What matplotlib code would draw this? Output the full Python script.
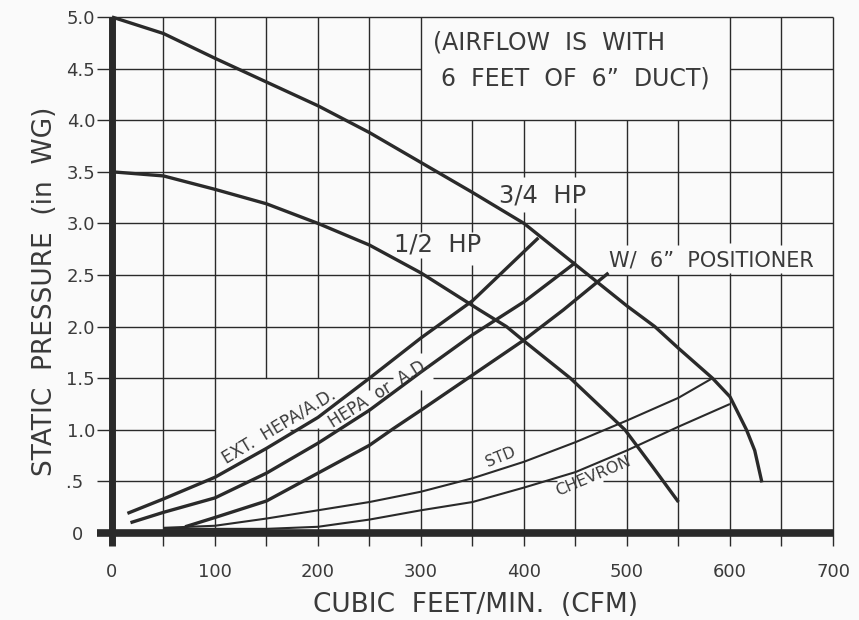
import matplotlib
matplotlib.use("Agg")
import matplotlib.pyplot as plt

# fan curves (cfm, static pressure in WG)
hp34_x = [0, 50, 100, 150, 200, 250, 300, 350, 400, 450, 500, 527, 550, 583, 600, 616, 624, 631]
hp34_y = [5.0, 4.84, 4.6, 4.37, 4.14, 3.88, 3.59, 3.30, 3.0, 2.6, 2.2, 2.0, 1.79, 1.5, 1.32, 1.0, 0.8, 0.49]
hp12_x = [0, 50, 100, 150, 200, 250, 300, 357, 383, 400, 445, 498, 525, 550]
hp12_y = [3.5, 3.46, 3.33, 3.19, 3.0, 2.79, 2.52, 2.16, 2.0, 1.86, 1.5, 1.0, 0.64, 0.3]

# system curves
ext_x = [15, 50, 100, 150, 200, 250, 300, 350, 414]
ext_y = [0.19, 0.33, 0.54, 0.82, 1.12, 1.50, 1.89, 2.25, 2.86]
hepa_x = [18, 50, 100, 150, 200, 250, 300, 350, 400, 450]
hepa_y = [0.10, 0.20, 0.34, 0.58, 0.87, 1.19, 1.56, 1.92, 2.24, 2.62]
pos_x = [71, 100, 150, 200, 250, 273, 300, 350, 400, 438, 482]
pos_y = [0.06, 0.15, 0.31, 0.58, 0.85, 1.01, 1.19, 1.53, 1.87, 2.16, 2.52]
std_x = [50, 100, 150, 200, 250, 300, 350, 400, 450, 500, 550, 583]
std_y = [0.05, 0.07, 0.14, 0.22, 0.30, 0.40, 0.53, 0.69, 0.88, 1.09, 1.31, 1.50]
chev_x = [50, 100, 150, 200, 250, 300, 350, 400, 450, 500, 550, 600]
chev_y = [0.04, 0.04, 0.04, 0.06, 0.13, 0.22, 0.30, 0.44, 0.59, 0.80, 1.03, 1.25]

x_ticks = [0, 100, 200, 300, 400, 500, 600, 700]
y_ticks = [0, 0.5, 1.0, 1.5, 2.0, 2.5, 3.0, 3.5, 4.0, 4.5, 5.0]
y_labels = ['0  ', '.5  ', '1.0', '1.5', '2.0', '2.5', '3.0', '3.5', '4.0', '4.5', '5.0']

# gaps in the grid where the labels sit
vgaps = {150: [(0.83, 1.5)], 200: [(1.02, 1.5)], 250: [(1.21, 1.39)],
         300: [(1.39, 1.74), (2.66, 2.92)], 350: [(2.60, 2.92), (4.0, 5.0)],
         400: [(3.11, 3.45), (4.0, 5.0)], 450: [(3.15, 3.45), (4.0, 5.0)],
         500: [(2.5, 2.79), (4.0, 5.0)], 550: [(2.5, 2.79), (4.0, 5.0)],
         600: [(2.52, 2.81)], 650: [(2.52, 2.79)]}
hgaps = {0.5: [(432, 477)], 1.0: [(100, 173)], 1.5: [(273, 312)], 4.5: [(300, 600)]}

ink = '#2a2a2a'
txt = '#3a3a3a'
bg = '#fafafa'
XMIN, XMAX = -15, 700
YMIN, YMAX = -0.13, 5.0


def pieces(lo, hi, gaps):
	out = []
	start = lo
	for g0, g1 in sorted(gaps):
		out.append((start, g0))
		start = g1
	out.append((start, hi))
	return out


fig = plt.figure(figsize=(8.59, 6.20), dpi=100, facecolor=bg)
ax = fig.add_axes([96.5 / 859, 1 - 546.4 / 620, (833 - 96.5) / 859, (546.4 - 17) / 620])
ax.set_facecolor(bg)
ax.set_xlim(XMIN, XMAX)
ax.set_ylim(YMIN, YMAX)
for s in ax.spines.values():
	s.set_visible(False)

# grid
for gx in range(50, 701, 50):
	for a, b in pieces(YMIN, YMAX, vgaps.get(gx, [])):
		ax.plot([gx, gx], [a, b], color=ink, lw=1.0, clip_on=False, solid_capstyle='butt')
for gy in y_ticks[1:]:
	for a, b in pieces(XMIN, XMAX, hgaps.get(gy, [])):
		ax.plot([a, b], [gy, gy], color=ink, lw=1.0, clip_on=False, solid_capstyle='butt')

# heavy axes
ax.plot([0, 0], [YMIN, YMAX], color=ink, lw=5, clip_on=False, solid_capstyle='butt')
ax.plot([XMIN, XMAX], [0, 0], color=ink, lw=5.5, clip_on=False, solid_capstyle='butt')

# curves
for xs, ys in [(hp34_x, hp34_y), (hp12_x, hp12_y), (ext_x, ext_y), (hepa_x, hepa_y), (pos_x, pos_y)]:
	ax.plot(xs, ys, color=ink, lw=2.4, clip_on=False, solid_capstyle='butt', solid_joinstyle='round')
for xs, ys in [(std_x, std_y), (chev_x, chev_y)]:
	ax.plot(xs, ys, color=ink, lw=1.5, clip_on=False, solid_capstyle='butt', solid_joinstyle='round')

ax.set_xticks(x_ticks)
ax.set_xticklabels([str(v) for v in x_ticks])
ax.set_yticks(y_ticks)
ax.set_yticklabels(y_labels)
ax.tick_params(axis='x', length=0, pad=12, labelsize=13, labelcolor=txt)
ax.tick_params(axis='y', length=0, pad=1, labelsize=13, labelcolor=txt)

# text
ax.text(311.5, 4.75, '(AIRFLOW  IS  WITH', fontsize=17, color=txt, ha='left', va='center')
ax.text(319, 4.40, '6  FEET  OF  6\u201d  DUCT)', fontsize=17, color=txt, ha='left', va='center')
ax.text(418, 3.27, '3/4  HP', fontsize=17.5, color=txt, ha='center', va='center')
ax.text(316, 2.80, '1/2  HP', fontsize=17.5, color=txt, ha='center', va='center')
ax.text(582, 2.64, 'W/  6\u201d  POSITIONER', fontsize=15, color=txt, ha='center', va='center')
ax.text(162, 1.038, 'EXT.  HEPA/A.D.', fontsize=12, color=txt, ha='center', va='center', rotation=31)
ax.text(260, 1.355, 'HEPA  or  A.D.', fontsize=12, color=txt, ha='center', va='center', rotation=32)
ax.text(377, 0.738, 'STD', fontsize=11, color=txt, ha='center', va='center', rotation=22)
ax.text(467, 0.553, 'CHEVRON', fontsize=11.5, color=txt, ha='center', va='center', rotation=23)

fig.text(45 / 859, 1 - 291 / 620, 'STATIC  PRESSURE  (in  WG)', fontsize=19, color=txt,
	ha='center', va='center', rotation=90)
fig.text(476 / 859, 1 - 605 / 620, 'CUBIC  FEET/MIN.  (CFM)', fontsize=19, color=txt,
	ha='center', va='center')

fig.savefig('out.png', dpi=100, facecolor=bg)
